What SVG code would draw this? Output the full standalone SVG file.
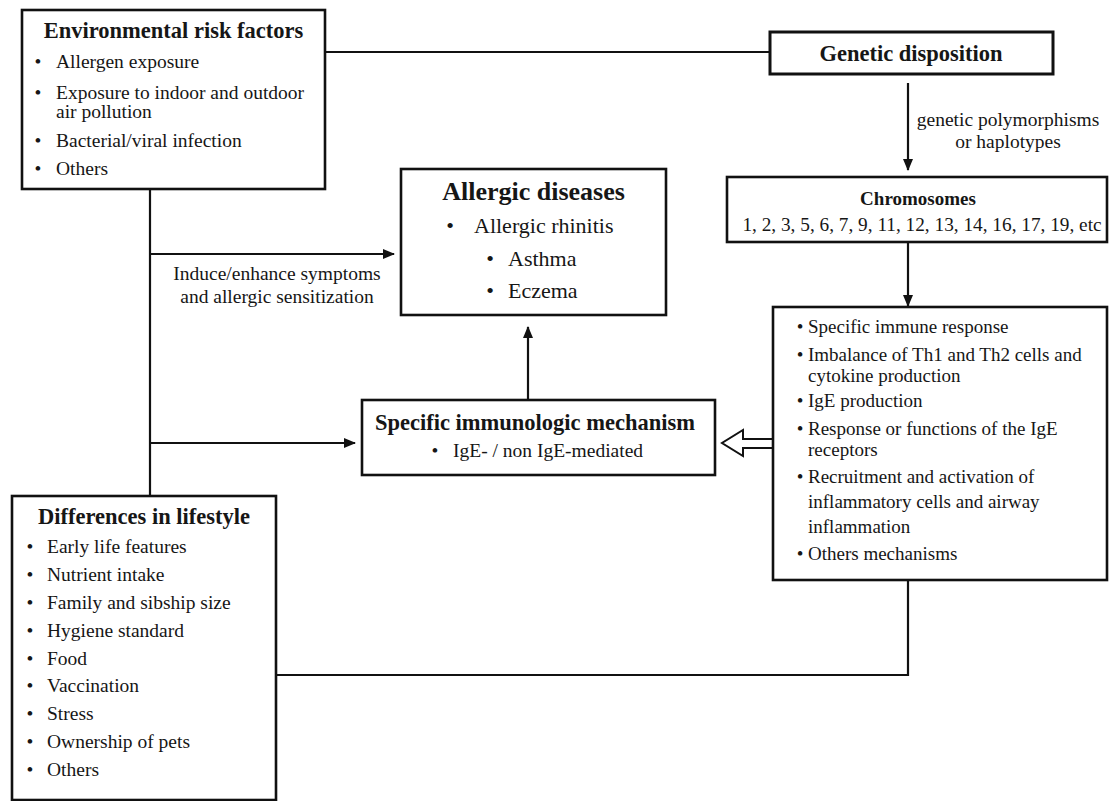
<svg xmlns="http://www.w3.org/2000/svg" width="1109" height="801" viewBox="0 0 1109 801">
<defs>
<marker id="arr" markerWidth="12" markerHeight="10" refX="11" refY="5" orient="auto" markerUnits="userSpaceOnUse">
<path d="M0,0 L12,5 L0,10 Z" fill="#111"/>
</marker>
<style>
text{font-family:"Liberation Serif","Times New Roman",serif;fill:#161616}
.box{fill:#fff;stroke:#111;stroke-width:2.6}
.ln{fill:none;stroke:#111;stroke-width:2.2}
.t{font-weight:bold;font-size:22.5px;text-anchor:middle}
.i{font-size:19.5px}
.m{font-size:19px}
.b{text-anchor:middle}
</style>
</defs>
<rect width="1109" height="801" fill="#fff"/>

<g id="connectors">
<line class="ln" x1="325" y1="52" x2="770" y2="52"/>
<line class="ln" x1="150" y1="189" x2="150" y2="496"/>
<line class="ln" x1="150" y1="254" x2="394" y2="254" marker-end="url(#arr)"/>
<line class="ln" x1="150" y1="443" x2="355" y2="443" marker-end="url(#arr)"/>
<line class="ln" x1="528" y1="400" x2="528" y2="327" marker-end="url(#arr)"/>
<line class="ln" x1="908" y1="83" x2="908" y2="170" marker-end="url(#arr)"/>
<line class="ln" x1="908" y1="242" x2="908" y2="306" marker-end="url(#arr)"/>
<polyline class="ln" points="276,675 908,675 908,580"/>
<path d="M773,439 L743,439 L743,430 L722,443 L743,456 L743,448 L773,448" fill="#fff" stroke="#111" stroke-width="2"/>
<text x="277" y="280" class="i b">Induce/enhance symptoms</text>
<text x="277" y="303" class="i b">and allergic sensitization</text>
<text x="1008" y="126" class="i b">genetic polymorphisms</text>
<text x="1008" y="148" class="i b">or haplotypes</text>
</g>

<g id="env">
<rect class="box" x="22" y="10" width="303" height="179"/>
<text x="173.5" y="38" class="t">Environmental risk factors</text>
<text x="38" y="68" class="i b">•</text><text x="56" y="68" class="i">Allergen exposure</text>
<text x="38" y="99" class="i b">•</text><text x="56" y="99" class="i">Exposure to indoor and outdoor</text>
<text x="56" y="118" class="i">air pollution</text>
<text x="38" y="147" class="i b">•</text><text x="56" y="147" class="i">Bacterial/viral infection</text>
<text x="38" y="175" class="i b">•</text><text x="56" y="175" class="i">Others</text>
</g>

<g id="genetic">
<rect class="box" x="770" y="32" width="283" height="42" style="stroke-width:3"/>
<text x="911" y="61" class="t">Genetic disposition</text>
</g>

<g id="allergic">
<rect class="box" x="401" y="169" width="265" height="146"/>
<text x="533.5" y="200" style="font-weight:bold;font-size:26px;text-anchor:middle">Allergic diseases</text>
<text x="450" y="233" style="font-size:22px;text-anchor:middle">•</text>
<text x="474" y="233" style="font-size:22px">Allergic rhinitis</text>
<text x="490" y="266" style="font-size:22px;text-anchor:middle">•</text>
<text x="508" y="266" style="font-size:22px">Asthma</text>
<text x="490" y="298" style="font-size:22px;text-anchor:middle">•</text>
<text x="508" y="298" style="font-size:22px">Eczema</text>
</g>

<g id="chromosomes">
<rect class="box" x="727" y="177" width="380" height="65"/>
<text x="918" y="205" style="font-weight:bold;font-size:19px;text-anchor:middle">Chromosomes</text>
<text x="922" y="231" style="font-size:19.3px;text-anchor:middle">1, 2, 3, 5, 6, 7, 9, 11, 12, 13, 14, 16, 17, 19, etc</text>
</g>

<g id="mechanisms">
<rect class="box" x="773" y="307" width="334" height="273"/>
<text x="800" y="333" class="m b">•</text><text x="808" y="333" class="m">Specific immune response</text>
<text x="800" y="361" class="m b">•</text><text x="808" y="361" class="m">Imbalance of Th1 and Th2 cells and</text>
<text x="808" y="382" class="m">cytokine production</text>
<text x="800" y="407" class="m b">•</text><text x="808" y="407" class="m">IgE production</text>
<text x="800" y="435" class="m b">•</text><text x="808" y="435" class="m">Response or functions of the IgE</text>
<text x="808" y="456" class="m">receptors</text>
<text x="800" y="483" class="m b">•</text><text x="808" y="483" class="m">Recruitment and activation of</text>
<text x="808" y="508" class="m">inflammatory cells and airway</text>
<text x="808" y="533" class="m">inflammation</text>
<text x="800" y="560" class="m b">•</text><text x="808" y="560" class="m">Others mechanisms</text>
</g>

<g id="specific">
<rect class="box" x="362" y="400" width="353" height="75"/>
<text x="535" y="430" class="t">Specific immunologic mechanism</text>
<text x="435" y="457" class="i b">•</text><text x="453" y="457" class="i">IgE- / non IgE-mediated</text>
</g>

<g id="lifestyle">
<rect class="box" x="12" y="496" width="264" height="304"/>
<text x="144" y="524" class="t">Differences in lifestyle</text>
<text x="30" y="553" class="i b">•</text><text x="47" y="553" class="i">Early life features</text>
<text x="30" y="581" class="i b">•</text><text x="47" y="581" class="i">Nutrient intake</text>
<text x="30" y="609" class="i b">•</text><text x="47" y="609" class="i">Family and sibship size</text>
<text x="30" y="637" class="i b">•</text><text x="47" y="637" class="i">Hygiene standard</text>
<text x="30" y="665" class="i b">•</text><text x="47" y="665" class="i">Food</text>
<text x="30" y="692" class="i b">•</text><text x="47" y="692" class="i">Vaccination</text>
<text x="30" y="720" class="i b">•</text><text x="47" y="720" class="i">Stress</text>
<text x="30" y="748" class="i b">•</text><text x="47" y="748" class="i">Ownership of pets</text>
<text x="30" y="776" class="i b">•</text><text x="47" y="776" class="i">Others</text>
</g>
</svg>
